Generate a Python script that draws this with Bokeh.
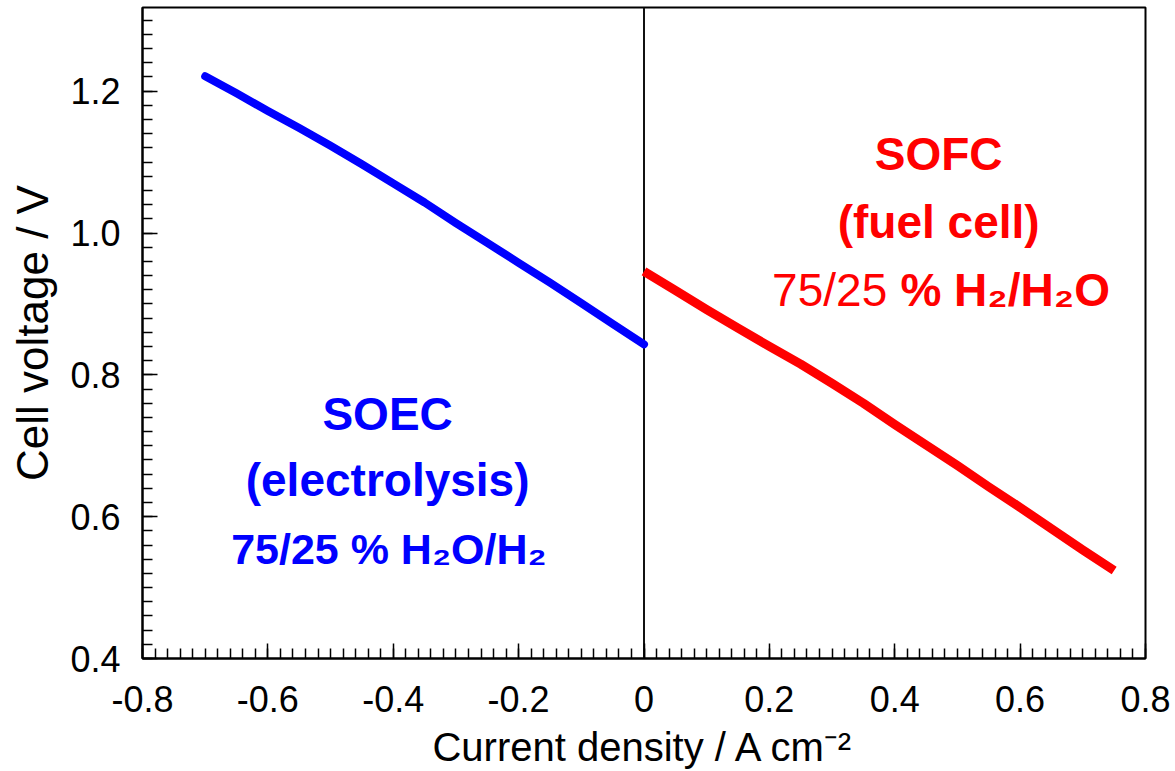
from bokeh.plotting import figure
from bokeh.models import Range1d, FixedTicker, Span, Label
from bokeh.embed import file_html
from bokeh.resources import INLINE

# ---- data ----
soec_j = [-0.70, -0.65, -0.60, -0.55, -0.50, -0.45, -0.40, -0.35, -0.30,
          -0.25, -0.20, -0.15, -0.10, -0.05, 0.00]
soec_v = [1.221, 1.197, 1.172, 1.148, 1.123, 1.097, 1.070, 1.043, 1.014,
          0.986, 0.958, 0.930, 0.901, 0.872, 0.843]

sofc_j = [0.00, 0.05, 0.10, 0.15, 0.20, 0.25, 0.30, 0.35, 0.40, 0.45,
          0.50, 0.55, 0.60, 0.65, 0.70, 0.75]
sofc_v = [0.946, 0.919, 0.892, 0.866, 0.840, 0.815, 0.788, 0.760, 0.730,
          0.701, 0.672, 0.642, 0.613, 0.583, 0.553, 0.524]

x_ticks = [-0.8, -0.6, -0.4, -0.2, 0.0, 0.2, 0.4, 0.6, 0.8]
x_tick_labels = ["-0.8", "-0.6", "-0.4", "-0.2", "0", "0.2", "0.4", "0.6", "0.8"]
y_ticks = [0.4, 0.6, 0.8, 1.0, 1.2]
y_tick_labels = ["0.4", "0.6", "0.8", "1.0", "1.2"]
x_minor = [round(-0.8 + 0.02 * i, 2) for i in range(81)]
y_minor = [round(0.4 + 0.02 * i, 2) for i in range(46)]

FONT = "Liberation Sans"
BLUE = "#0000FF"
RED = "#FF0000"

p = figure(width=1175, height=771, output_backend="svg", toolbar_location=None,
           x_range=Range1d(-0.8, 0.8), y_range=Range1d(0.4, 1.318),
           min_border_left=142, min_border_right=30, min_border_top=7,
           min_border_bottom=112)
p.background_fill_color = "white"
p.border_fill_color = "white"
p.outline_line_color = "black"
p.outline_line_width = 2
p.xgrid.visible = False
p.ygrid.visible = False

p.xaxis.ticker = FixedTicker(ticks=x_ticks, minor_ticks=x_minor)
p.yaxis.ticker = FixedTicker(ticks=y_ticks, minor_ticks=y_minor)
p.xaxis.major_label_overrides = {t: l for t, l in zip(x_ticks, x_tick_labels)}
p.yaxis.major_label_overrides = {t: l for t, l in zip(y_ticks, y_tick_labels)}

for ax in (p.xaxis, p.yaxis):
    ax.axis_line_width = 2
    ax.axis_line_color = "black"
    ax.major_tick_in = 15
    ax.major_tick_out = 0
    ax.minor_tick_in = 10
    ax.minor_tick_out = 0
    ax.major_tick_line_width = 1.5
    ax.minor_tick_line_width = 1.5
    ax.major_tick_line_color = "black"
    ax.minor_tick_line_color = "black"
    ax.major_label_text_font = FONT
    ax.major_label_text_font_size = "36px"
    ax.major_label_text_color = "black"
    ax.axis_label_text_font = FONT
    ax.axis_label_text_font_style = "normal"
    ax.axis_label_text_color = "black"

p.xaxis.axis_label = "Current density / A cm\u207b\u00b2"
p.xaxis.axis_label_text_font_size = "40px"
p.xaxis.major_label_standoff = 27
p.xaxis.axis_label_standoff = 10

p.yaxis.axis_label = "Cell voltage / V"
p.yaxis.axis_label_text_font_size = "44px"
p.yaxis.major_label_standoff = 22
p.yaxis.axis_label_standoff = 10

# vertical line at zero current
p.add_layout(Span(location=0, dimension="height", line_color="#111111",
                  line_width=2, level="underlay"))

p.line(soec_j, soec_v, line_color=BLUE, line_width=8, line_cap="round",
       line_join="round")
p.line(sofc_j, sofc_v, line_color=RED, line_width=9, line_cap="butt",
       line_join="round")

def lab(x, y, text, color, style="bold", align="center", size="46px"):
    p.add_layout(Label(x=x, y=y, text=text, text_color=color, text_font=FONT,
                       text_font_size=size, text_font_style=style,
                       text_align=align, text_baseline="alphabetic"))

lab(-0.409, 0.745, "SOEC", BLUE)
lab(-0.409, 0.652, "(electrolysis)", BLUE)
lab(-0.407, 0.554, "75/25 % H\u2082O/H\u2082", BLUE, size="43px")

lab(0.47, 1.112, "SOFC", RED)
lab(0.47, 1.015, "(fuel cell)", RED)
lab(0.388, 0.9195, "75/25", RED, style="normal", align="right")
lab(0.409, 0.9195, "% H\u2082/H\u2082O", RED, align="left")

open("out.html", "w").write(file_html(p, INLINE))
